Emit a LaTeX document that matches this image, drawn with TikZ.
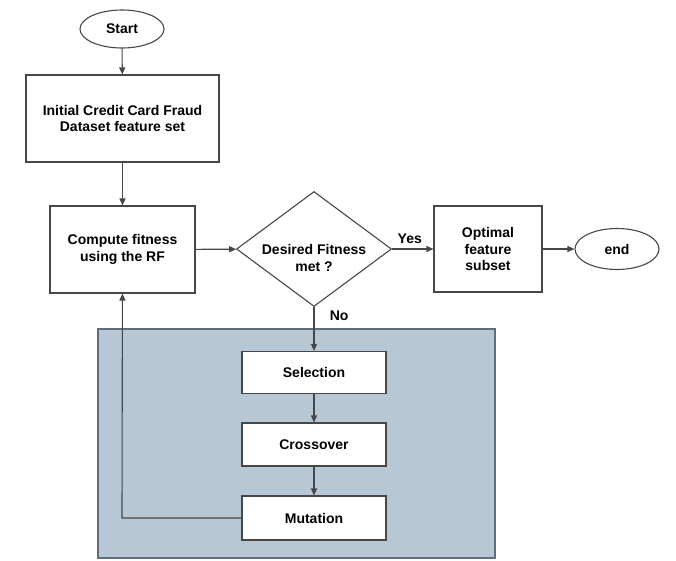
\documentclass[tikz,border=0pt]{standalone}
\usepackage{fontspec}
\setmainfont{Liberation Sans}
\usetikzlibrary{arrows.meta, positioning, shapes.geometric}

\begin{document}
\begin{tikzpicture}[x=1pt, y=-1pt, >={Triangle[length=7pt, width=6pt]},
  font=\fontsize{14}{16.5}\selectfont\bfseries,
  line/.style={draw=black!72, line width=1.1pt},
  procbox/.style={line, rectangle, fill=white, align=center},
  termnode/.style={line, ellipse, fill=white, minimum width=84pt, minimum height=38pt},
  decide/.style={line, diamond, fill=white, minimum width=155pt, minimum height=115pt, inner sep=0pt},
  gabox/.style={procbox, minimum width=144pt, minimum height=42pt}]
\useasboundingbox (0,0) rectangle (676,560);
% GA operators region
\draw[fill={rgb,255:red,184;green,199;blue,212}, draw={rgb,255:red,95;green,110;blue,122}, line width=1.1pt] (98,329) rectangle (495,558);
% Main flow
\node[termnode] (start) at (122,29) {Start};
\node[procbox, minimum width=193pt, minimum height=87pt] (init) at (122.5,118.5) {Initial Credit Card Fraud\\Dataset feature set};
\node[procbox, minimum width=145pt, minimum height=87pt] (fit) at (122.5,249.5) {Compute fitness\\using the RF};
\node[decide, label={[align=center, yshift=-9pt]center:Desired Fitness\\met ?}] (met) at (314,249) {};
\node[procbox, minimum width=108pt, minimum height=86pt] (best) at (488,249) {Optimal\\feature\\subset};
\node[termnode, minimum height=41pt] (stop) at (617,249) {end};
% GA loop
\node[gabox] (sel) at (314,372.5) {Selection};
\node[gabox, minimum height=43pt] (cross) at (314,444.5) {Crossover};
\node[gabox, minimum height=44pt] (mut) at (314,518) {Mutation};
\coordinate (back) at (122,518);
% Connectors
\draw[line, ->] (start) -- (init);
\draw[line, ->] (init) -- (fit);
\draw[line, ->] (fit) -- (met);
\draw[line, ->] (met) -- node[above, xshift=-3pt, yshift=1pt] {Yes} (best);
\draw[line, ->] (best) -- (stop);
\draw[line, ->] (met) -- node[right, pos=0.2, xshift=12pt] {No} (sel);
\draw[line, ->] (sel) -- (cross);
\draw[line, ->] (cross) -- (mut);
\draw[line, ->] (mut) -- (back) -- (fit);
\end{tikzpicture}
\end{document}
